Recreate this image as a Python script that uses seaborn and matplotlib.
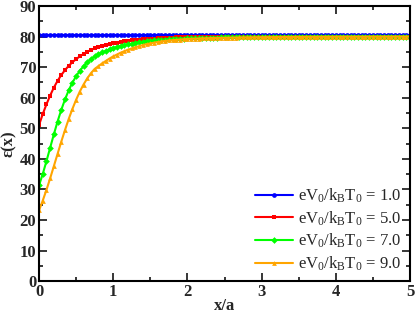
import numpy as np
import pandas as pd
import matplotlib
matplotlib.use("Agg")
import matplotlib.pyplot as plt
import seaborn as sns

# x/a grid (step 0.05)
x_a = np.round(np.arange(101) * 0.05, 2)

eps_v1 = [80.6, 80.6, 80.6, 80.6, 80.6, 80.6, 80.6, 80.6, 80.6, 80.6,
          80.6, 80.6, 80.6, 80.6, 80.6, 80.6, 80.6, 80.6, 80.6, 80.6,
          80.6, 80.6, 80.6, 80.6, 80.6, 80.6, 80.6, 80.6, 80.6, 80.6,
          80.6, 80.6, 80.6, 80.6, 80.6, 80.6, 80.6, 80.6, 80.6, 80.6,
          80.6, 80.6, 80.6, 80.6, 80.6, 80.6, 80.6, 80.6, 80.6, 80.6,
          80.6, 80.6, 80.6, 80.6, 80.6, 80.6, 80.6, 80.6, 80.6, 80.6,
          80.6, 80.6, 80.6, 80.6, 80.6, 80.6, 80.6, 80.6, 80.6, 80.6,
          80.6, 80.6, 80.6, 80.6, 80.6, 80.6, 80.6, 80.6, 80.6, 80.6,
          80.6, 80.6, 80.6, 80.6, 80.6, 80.6, 80.6, 80.6, 80.6, 80.6,
          80.6, 80.6, 80.6, 80.6, 80.6, 80.6, 80.6, 80.6, 80.6, 80.6,
          80.6]

eps_v5 = [51.0, 54.6, 57.8, 60.7, 63.3, 65.5, 67.4, 69.0, 70.4, 71.6,
          72.6, 73.5, 74.3, 75.0, 75.6, 76.1, 76.5, 76.9, 77.2, 77.5,
          77.8, 78.0, 78.2, 78.4, 78.6, 78.75, 78.9, 79.0, 79.1, 79.2,
          79.3, 79.35, 79.4, 79.5, 79.55, 79.6, 79.65, 79.7, 79.7, 79.75,
          79.8,
          79.82, 79.84, 79.86, 79.87, 79.88, 79.9, 79.91, 79.92, 79.93, 79.94,
          79.95, 79.95, 79.96, 79.96, 79.97, 79.97, 79.97, 79.98, 79.98, 79.98,
          79.98, 79.99, 79.99, 79.99, 79.99, 79.99, 79.99, 79.99, 79.99, 79.99,
          80.0, 80.0, 80.0, 80.0, 80.0, 80.0, 80.0, 80.0, 80.0, 80.0,
          80.0, 80.0, 80.0, 80.0, 80.0, 80.0, 80.0, 80.0, 80.0, 80.0,
          80.0, 80.0, 80.0, 80.0, 80.0, 80.0, 80.0, 80.0, 80.0, 80.0]

eps_v7 = [31.3, 35.0, 39.2, 43.6, 48.0, 52.2, 56.0, 59.4, 62.4, 64.9,
          67.0, 68.8, 70.3, 71.6, 72.6, 73.5, 74.2, 74.8, 75.3, 75.8,
          76.2, 76.6, 76.9, 77.2, 77.5, 77.7, 77.9, 78.1, 78.3, 78.45,
          78.6, 78.7, 78.8, 78.9, 79.0, 79.1, 79.2, 79.25, 79.3, 79.35,
          79.4,
          79.44, 79.48, 79.52, 79.55, 79.58, 79.61, 79.64, 79.67, 79.69, 79.71,
          79.73, 79.75, 79.77, 79.79, 79.8, 79.82, 79.83, 79.84, 79.85, 79.86,
          79.87, 79.88, 79.89, 79.9, 79.91, 79.91, 79.92, 79.93, 79.93, 79.94,
          79.94, 79.95, 79.95, 79.96, 79.96, 79.96, 79.97, 79.97, 79.97, 79.97,
          79.98, 79.98, 79.98, 79.98, 79.98, 79.98, 79.98, 79.98, 79.98, 79.98,
          79.98, 79.99, 79.99, 79.99, 79.99, 79.99, 79.99, 79.99, 79.99, 79.99]

eps_v9 = [23.1, 26.3, 29.8, 33.6, 37.6, 41.6, 45.6, 49.4, 53.0, 56.3,
          59.3, 62.0, 64.3, 66.3, 68.0, 69.4, 70.3, 71.2, 72.0, 72.8,
          73.5, 74.1, 74.7, 75.2, 75.7, 76.1, 76.5, 76.85, 77.2, 77.5,
          77.75, 78.0, 78.2, 78.4, 78.55, 78.7, 78.8, 78.9, 79.0, 79.1,
          79.2,
          79.25, 79.3, 79.35, 79.39, 79.43, 79.47, 79.5, 79.53, 79.56, 79.59,
          79.62, 79.64, 79.66, 79.68, 79.7, 79.72, 79.74, 79.75, 79.77, 79.78,
          79.79, 79.8, 79.81, 79.82, 79.83, 79.84, 79.85, 79.86, 79.87, 79.87,
          79.88, 79.89, 79.89, 79.9, 79.9, 79.91, 79.91, 79.92, 79.92, 79.93,
          79.93, 79.93, 79.94, 79.94, 79.94, 79.95, 79.95, 79.95, 79.95, 79.96,
          79.96, 79.96, 79.96, 79.96, 79.97, 79.97, 79.97, 79.97, 79.97, 79.97]

labels = [r"eV$_0$/k$_B$T$_0$ = 1.0", r"eV$_0$/k$_B$T$_0$ = 5.0",
          r"eV$_0$/k$_B$T$_0$ = 7.0", r"eV$_0$/k$_B$T$_0$ = 9.0"]

sns.set_style("ticks")
plt.rcParams["font.family"] = ["Liberation Serif", "DejaVu Serif"]
plt.rcParams["mathtext.default"] = "regular"

fig = plt.figure(figsize=(4.15, 3.13), dpi=100)
ax = fig.add_axes([0.094, 0.102, 0.894, 0.879])

series = [(eps_v1, "#0000ff", "o"), (eps_v5, "#ff0000", "s"),
          (eps_v7, "#00ff00", "D"), (eps_v9, "#ffa500", "^")]
for (vals, col, mk), lab in zip(series, labels):
    sns.lineplot(x=x_a, y=vals, ax=ax, color=col, marker=mk, markersize=3.4,
                 markeredgewidth=0, linewidth=1.5, label=lab)

ax.set_xlim(0, 5)
ax.set_ylim(0, 90)
ax.set_xticks(range(0, 6))
ax.set_yticks(range(0, 91, 10))
ax.set_xticks(np.arange(0.5, 5, 1.0), minor=True)
ax.set_yticks(np.arange(5, 90, 10), minor=True)
ax.tick_params(which="both", direction="in", top=True, right=True, width=1.3)
ax.tick_params(which="major", length=6, labelsize=12, pad=2)
ax.tick_params(which="minor", length=3)
for t in ax.get_xticklabels() + ax.get_yticklabels():
    t.set_fontweight("bold")
for s in ax.spines.values():
    s.set_linewidth(1.5)
    s.set_color("black")

ax.set_xlabel("x/a", fontsize=12, fontweight="bold", labelpad=-1)
ax.set_ylabel("ε(x)", fontsize=12, fontweight="bold", labelpad=2)

ax.legend(loc="lower right", frameon=False, fontsize=12, handlelength=2.3,
          handletextpad=0.3, labelspacing=0.25, borderaxespad=0.1,
          markerscale=1.0)

fig.savefig("out.png", dpi=100)
